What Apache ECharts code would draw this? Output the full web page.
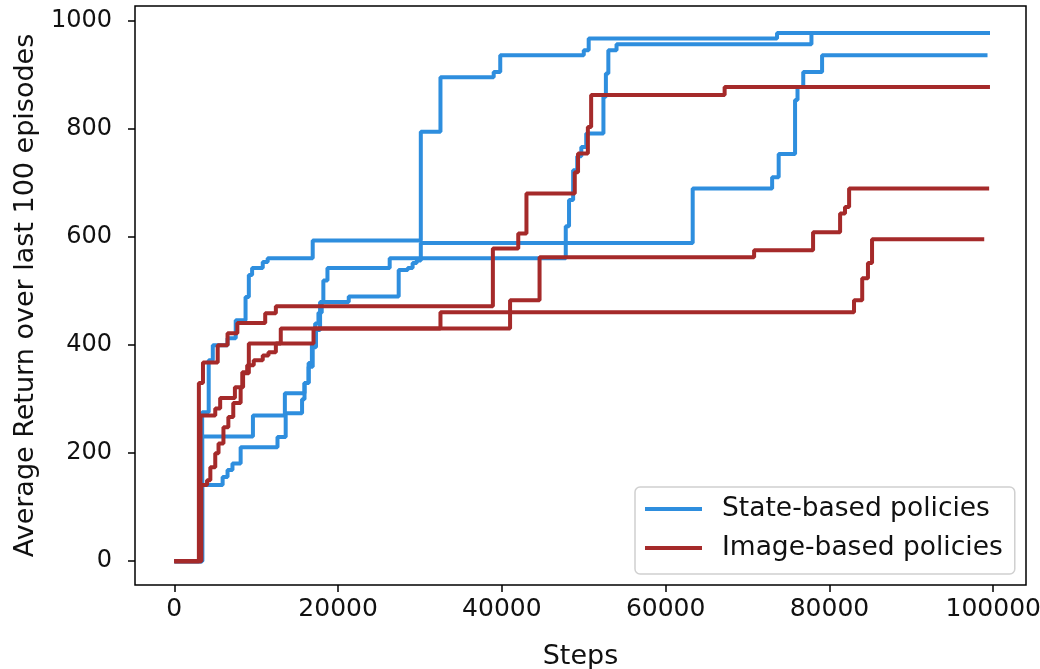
<!DOCTYPE html>
<html>
<head>
<meta charset="utf-8">
<script src="https://cdn.jsdelivr.net/npm/echarts@6.0.0/dist/echarts.min.js"></script>
<style>
  html, body { margin: 0; padding: 0; background: #fff; }
  #chart { width: 1040px; height: 669px; }
</style>
</head>
<body>
<div id="chart"></div>
<script>
// each run: step where the running average changes, and the new value from there on
const stateStepsA = [0, 3400, 4200, 4700, 6500, 7500, 8700, 9100, 9500, 10800, 11400, 16900, 30100, 32500, 39000, 39800, 50000, 50600, 73600, 99600];
const stateValsA  = [0, 276, 372, 400, 413, 446, 489, 530, 543, 554, 561, 594, 795, 896, 906, 937, 946, 968, 978, 978];

const stateStepsB = [0, 3400, 5900, 6500, 7100, 8100, 12600, 13600, 15600, 15900, 16400, 16900, 17300, 17800, 18200, 18700, 26300, 47800, 48200, 48700, 49200, 49700, 50300, 52400, 52700, 53000, 54000, 77800, 99600];
const stateValsB  = [0, 141, 156, 169, 181, 211, 230, 274, 300, 330, 360, 396, 428, 480, 520, 543, 561, 620, 669, 724, 750, 767, 792, 860, 903, 946, 957, 978, 978];

const stateStepsC = [0, 3400, 9600, 13500, 15900, 16400, 16800, 17200, 17600, 18000, 21300, 27400, 28500, 29100, 29600, 30100, 63300, 73000, 73800, 75800, 76100, 76800, 79100, 99300];
const stateValsC  = [0, 231, 270, 311, 330, 367, 400, 440, 460, 480, 490, 539, 543, 552, 557, 589, 690, 711, 754, 854, 878, 906, 937, 937];

const imageStepsA = [0, 3000, 3500, 5300, 6500, 7700, 11100, 12400, 38900, 42000, 43000, 48900, 49300, 50500, 50900, 67200, 99600];
const imageValsA  = [0, 330, 368, 400, 422, 441, 459, 472, 579, 607, 681, 720, 755, 804, 863, 878, 878];

const imageStepsB = [0, 3300, 4000, 4400, 5000, 5400, 6000, 6600, 7200, 8100, 8400, 9100, 17000, 41000, 44600, 70800, 78000, 81300, 81900, 82400, 99500];
const imageValsB  = [0, 141, 150, 174, 200, 218, 248, 267, 293, 322, 348, 403, 431, 483, 563, 576, 609, 644, 656, 690, 690];

const imageStepsC = [0, 3200, 5000, 5600, 7400, 8300, 8900, 9700, 10800, 11500, 12400, 13000, 32500, 83000, 84000, 84700, 85200, 98900];
const imageValsC  = [0, 270, 283, 302, 322, 350, 363, 372, 381, 387, 403, 431, 461, 483, 524, 552, 596, 596];

const xTicks = [0, 20000, 40000, 60000, 80000, 100000];
const yTicks = [0, 200, 400, 600, 800, 1000];

const STATE = 'State-based policies';
const IMAGE = 'Image-based policies';
const blue = '#2e8ede';
const red = '#a52a2a';
const font = 'DejaVu Sans';

function pairs(steps, vals) {
  return steps.map((s, i) => [s, vals[i]]);
}

function run(name, color, steps, vals) {
  return {
    name: name,
    type: 'line',
    step: 'end',
    showSymbol: false,
    data: pairs(steps, vals),
    lineStyle: { color: color, width: 4 },
    itemStyle: { color: color }
  };
}

const chart = echarts.init(document.getElementById('chart'));
chart.setOption({
  animation: false,
  grid: {
    left: 135, right: 14, top: 6, bottom: 84,
    outerBoundsMode: 'none', containLabel: false,
    show: true, borderColor: '#000', borderWidth: 1.5
  },
  legend: {
    data: [STATE, IMAGE],
    orient: 'vertical',
    left: 635, top: 487,
    icon: 'rect', itemWidth: 57, itemHeight: 4, itemGap: 11,
    padding: [8, 12, 12, 10],
    borderColor: '#d0d0d0', borderWidth: 1.5, borderRadius: 5,
    backgroundColor: '#fff',
    textStyle: { fontFamily: font, fontSize: 26.5, color: '#111', lineHeight: 28, padding: [0, 0, 0, 15] }
  },
  xAxis: {
    type: 'value', min: -4800, max: 104000,
    name: 'Steps', nameLocation: 'middle', nameGap: 58,
    nameTextStyle: { fontFamily: font, fontSize: 27, color: '#111' },
    axisLine: { show: false, onZero: false },
    axisTick: { show: true, inside: false, customValues: xTicks, length: 7, lineStyle: { color: '#000', width: 1.5 } },
    axisLabel: { customValues: xTicks, formatter: v => String(v), fontFamily: font, fontSize: 25, color: '#111', margin: 12 },
    splitLine: { show: false }
  },
  yAxis: {
    type: 'value', min: -44, max: 1028,
    name: 'Average Return over last 100 episodes', nameLocation: 'middle', nameGap: 96,
    nameTextStyle: { fontFamily: font, fontSize: 27, color: '#111' },
    axisLine: { show: false, onZero: false },
    axisTick: { show: true, inside: false, customValues: yTicks, length: 7, lineStyle: { color: '#000', width: 1.5 } },
    axisLabel: { customValues: yTicks, formatter: v => String(v), fontFamily: font, fontSize: 24, color: '#111', margin: 23 },
    splitLine: { show: false }
  },
  series: [
    run(STATE, blue, stateStepsA, stateValsA),
    run(STATE, blue, stateStepsB, stateValsB),
    run(STATE, blue, stateStepsC, stateValsC),
    run(IMAGE, red, imageStepsA, imageValsA),
    run(IMAGE, red, imageStepsB, imageValsB),
    run(IMAGE, red, imageStepsC, imageValsC)
  ]
});
</script>
</body>
</html>
